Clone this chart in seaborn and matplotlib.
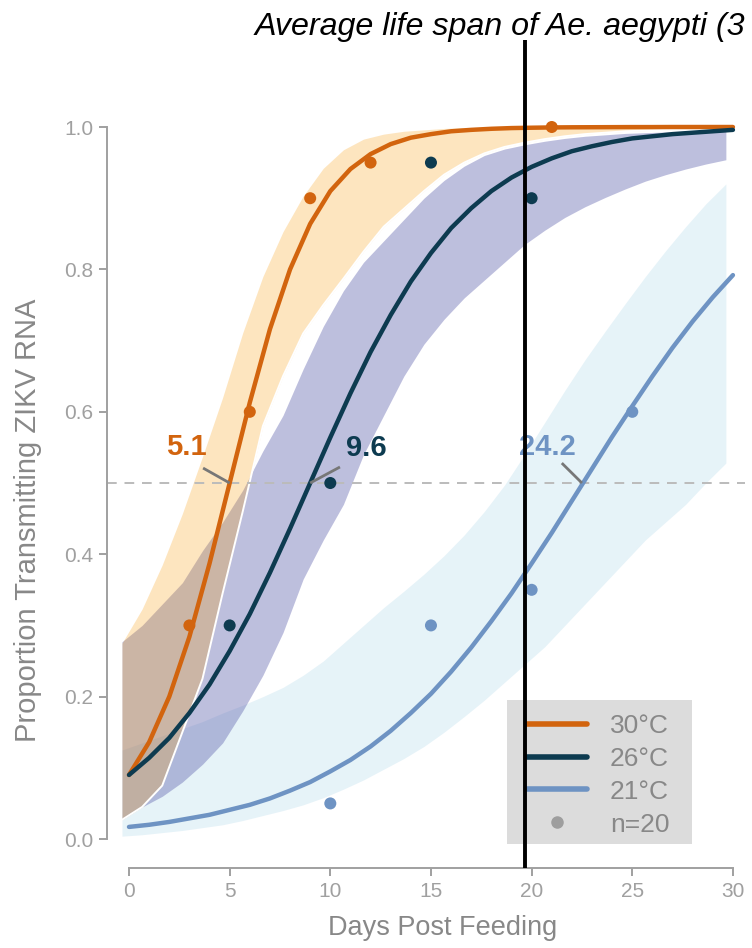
import numpy as np
import pandas as pd
import seaborn as sns
import matplotlib
matplotlib.use("Agg")
import matplotlib.pyplot as plt
from matplotlib.lines import Line2D
from matplotlib.patches import Rectangle

# ---------------- data ----------------
days = list(range(31))
temps = ["30°C", "26°C", "21°C"]

fit_30 = [0.090, 0.136, 0.200, 0.284, 0.387, 0.500, 0.613, 0.716, 0.800, 0.864,
          0.910, 0.941, 0.962, 0.976, 0.985, 0.990, 0.994, 0.996, 0.9975, 0.9985,
          0.999, 0.9994, 0.9996, 0.9997, 0.9998, 0.9999, 0.9999, 1.0, 1.0, 1.0, 1.0]
fit_26 = [0.090, 0.114, 0.142, 0.177, 0.217, 0.264, 0.316, 0.374, 0.436, 0.500,
          0.564, 0.626, 0.684, 0.736, 0.783, 0.823, 0.858, 0.886, 0.910, 0.929,
          0.944, 0.956, 0.966, 0.973, 0.979, 0.984, 0.987, 0.990, 0.992, 0.994, 0.996]
fit_21 = [0.017, 0.020, 0.024, 0.029, 0.034, 0.041, 0.048, 0.057, 0.068, 0.080,
          0.095, 0.111, 0.130, 0.152, 0.177, 0.204, 0.235, 0.269, 0.306, 0.345,
          0.387, 0.430, 0.475, 0.520, 0.565, 0.608, 0.650, 0.690, 0.727, 0.761, 0.792]

lo_30 = [0.027, 0.045, 0.075, 0.150, 0.225, 0.345, 0.460, 0.580, 0.650, 0.710,
         0.750, 0.787, 0.825, 0.860, 0.885, 0.910, 0.933, 0.950, 0.963, 0.972,
         0.978, 0.983, 0.987, 0.990, 0.992, 0.994, 0.995, 0.996, 0.997, 0.998, 0.998]
hi_30 = [0.275, 0.323, 0.385, 0.457, 0.537, 0.620, 0.711, 0.790, 0.853, 0.903,
         0.942, 0.968, 0.983, 0.990, 0.994, 0.996, 0.998, 0.999, 0.999, 1.0,
         1.0, 1.0, 1.0, 1.0, 1.0, 1.0, 1.0, 1.0, 1.0, 1.0, 1.0]
lo_26 = [0.027, 0.045, 0.060, 0.080, 0.105, 0.135, 0.180, 0.230, 0.290, 0.365,
         0.420, 0.470, 0.540, 0.595, 0.650, 0.695, 0.730, 0.760, 0.785, 0.810,
         0.835, 0.855, 0.873, 0.888, 0.901, 0.913, 0.924, 0.933, 0.941, 0.948, 0.954]
hi_26 = [0.277, 0.300, 0.330, 0.360, 0.405, 0.445, 0.490, 0.545, 0.595, 0.660,
         0.720, 0.770, 0.810, 0.840, 0.870, 0.900, 0.925, 0.945, 0.960, 0.969,
         0.975, 0.980, 0.984, 0.987, 0.989, 0.991, 0.992, 0.993, 0.994, 0.995, 0.996]
lo_21 = [0.004, 0.006, 0.009, 0.012, 0.016, 0.020, 0.026, 0.033, 0.040, 0.048,
         0.058, 0.070, 0.083, 0.098, 0.113, 0.130, 0.150, 0.172, 0.195, 0.220,
         0.245, 0.270, 0.300, 0.330, 0.360, 0.390, 0.420, 0.445, 0.470, 0.500, 0.528]
hi_21 = [0.125, 0.135, 0.145, 0.155, 0.165, 0.177, 0.188, 0.200, 0.213, 0.230,
         0.250, 0.275, 0.300, 0.325, 0.348, 0.372, 0.398, 0.427, 0.460, 0.497,
         0.540, 0.585, 0.630, 0.673, 0.713, 0.752, 0.790, 0.826, 0.860, 0.892, 0.920]

obs_days_30 = [3, 6, 9, 12, 21]
obs_prop_30 = [0.30, 0.60, 0.90, 0.95, 1.00]
obs_days_26 = [5, 10, 15, 20]
obs_prop_26 = [0.30, 0.50, 0.95, 0.90]
obs_days_21 = [10, 15, 20, 25]
obs_prop_21 = [0.05, 0.30, 0.35, 0.60]

t50_labels = ["5.1", "9.6", "24.2"]
t50_days = [5.0, 9.0, 22.5]
lifespan_day = 19.67
title_text = "Average life span of Ae. aegypti (3"

# ---------------- style ----------------
sns.set_theme(style="white")
plt.rcParams["font.family"] = ["Liberation Sans", "DejaVu Sans"]

c30, c26, c21 = "#d2640e", "#0d3b50", "#6e93c3"
palette = {"30°C": c30, "26°C": c26, "21°C": c21}
grey = "#a0a0a0"

fits = pd.DataFrame({
    "day": days * 3,
    "prop": fit_30 + fit_26 + fit_21,
    "temp": ["30°C"] * 31 + ["26°C"] * 31 + ["21°C"] * 31,
})
obs = pd.DataFrame({
    "day": obs_days_30 + obs_days_26 + obs_days_21,
    "prop": obs_prop_30 + obs_prop_26 + obs_prop_21,
    "temp": ["30°C"] * len(obs_days_30) + ["26°C"] * len(obs_days_26) + ["21°C"] * len(obs_days_21),
})

fig = plt.figure(figsize=(7.52, 9.48), dpi=100)
ax = fig.add_axes([107 / 752, 80 / 948, 638 / 752, 828 / 948])

bx = np.array(days) - 0.35
ax.fill_between(bx, lo_21, hi_21, color="#c2e1ef", alpha=0.4, lw=0, zorder=1)
ax.fill_between(bx, lo_26, hi_26, color="#5c5fac", alpha=0.4, lw=0, zorder=1.1)
ax.fill_between(bx, lo_30, hi_30, color="#f89800", alpha=0.25, lw=0, zorder=1.2)
ax.plot(bx, lo_30, color="white", lw=1.4, zorder=1.3)

ax.axhline(0.5, color="#bbbbbb", lw=1.4, ls=(0, (5, 4)), zorder=1.5)

sns.lineplot(data=fits, x="day", y="prop", hue="temp", palette=palette,
             lw=3.2, ax=ax, legend=False, zorder=3)
sns.scatterplot(data=obs, x="day", y="prop", hue="temp", palette=palette,
                s=75, edgecolor="none", ax=ax, legend=False, zorder=4)

# t50 annotations
label_offsets = [(-2.17, 0.051), (2.8, 0.049), (-1.7, 0.051)]
leader_starts = [(-1.32, 0.021), (1.48, 0.0225), (-1.0, 0.028)]
for lab, d, col, off, ls in zip(t50_labels, t50_days, [c30, c26, c21],
                                label_offsets, leader_starts):
    ax.plot([d + ls[0], d], [0.5 + ls[1], 0.5], color="#777777", lw=2, zorder=3.5,
            solid_capstyle="butt")
    ax.text(d + off[0], 0.5 + off[1], lab, color=col, fontsize=21, fontweight="bold",
            ha="center", va="center", zorder=5)

# axes
ax.set_xlim(-1.093, 30.6)
ax.set_ylim(-0.0407, 1.1222)
ax.set_xticks([0, 5, 10, 15, 20, 25, 30])
ax.set_yticks([0.0, 0.2, 0.4, 0.6, 0.8, 1.0])
ax.set_yticklabels(["0.0", "0.2", "0.4", "0.6", "0.8", "1.0"])
sns.despine(ax=ax)
ax.spines["left"].set_bounds(0, 1)
ax.spines["bottom"].set_bounds(0, 30)
for s in ("left", "bottom"):
    ax.spines[s].set_color(grey)
    ax.spines[s].set_linewidth(1.4)
ax.tick_params(axis="both", colors=grey, labelcolor=grey, labelsize=15,
               length=6, width=1.4, direction="out", pad=4, left=True, bottom=True)
ax.set_xlabel("Days Post Feeding", fontsize=19.5, color="#888888")
ax.set_ylabel("Proportion Transmitting ZIKV RNA", fontsize=21, color="#888888")
ax.xaxis.set_label_coords((443 - 107) / 638, (868 - 915) / 828)
ax.yaxis.set_label_coords((42 - 107) / 638, (868 - 520) / 828)

# legend: grey box behind, entries placed inside
ax.add_patch(Rectangle(((507 - 107) / 638, (868 - 844) / 828),
                       (692 - 507) / 638, (844 - 700) / 828,
                       transform=ax.transAxes, facecolor="#dcdcdc",
                       edgecolor="none", zorder=5.5))
handles = [Line2D([], [], color=c30, lw=4),
           Line2D([], [], color=c26, lw=4),
           Line2D([], [], color=c21, lw=4),
           Line2D([], [], color="#9e9e9e", lw=0, marker="o", markersize=8)]
leg = ax.legend(handles, temps + ["n=20"], loc="upper left",
                bbox_to_anchor=((527 - 107) / 638, (868 - 714) / 828),
                fontsize=19, frameon=False, handlelength=2.27,
                handletextpad=0.87, labelspacing=0.335, borderpad=0,
                borderaxespad=0)
for t in leg.get_texts():
    t.set_color("#888888")
leg.set_zorder(6)

ax.axvline(lifespan_day, color="black", lw=2.8, zorder=7)

fig.text(255 / 752, 1 - 35 / 948, title_text, fontsize=23.2, style="italic",
         color="black", ha="left", va="baseline")

fig.savefig("out.png", dpi=100)
